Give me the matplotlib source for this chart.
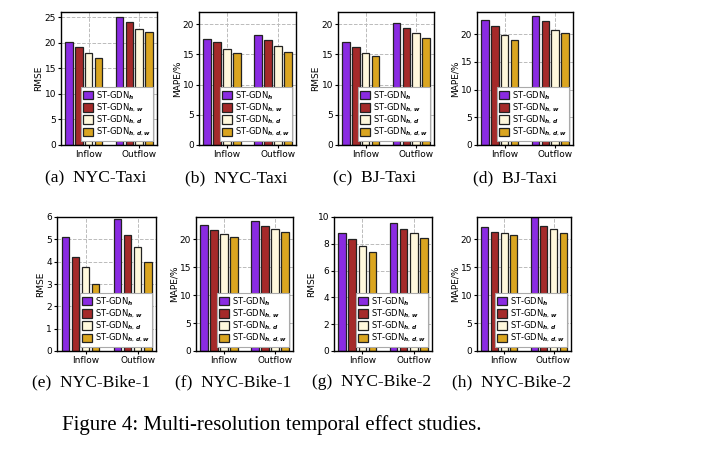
import matplotlib
matplotlib.use('Agg')
import matplotlib.pyplot as plt
import numpy as np

plt.rcParams['font.family'] = ['DejaVu Sans']
plt.rcParams['mathtext.fontset'] = 'custom'
plt.rcParams['mathtext.it'] = 'DejaVu Sans:italic:bold'
plt.rcParams['mathtext.rm'] = 'DejaVu Sans'

categories = ['Inflow', 'Outflow']
series_labels = [r'ST-GDN$_{h}$', r'ST-GDN$_{h,w}$', r'ST-GDN$_{h,d}$', r'ST-GDN$_{h,d,w}$']
colors = ['#8A2BE2', '#A52A2A', '#FFF8DC', '#DAA520']

# values per panel: inflow (4 series), outflow (4 series)
nyc_taxi_rmse_in = [20.2, 19.2, 17.9, 17.1]
nyc_taxi_rmse_out = [25.1, 24.1, 22.7, 22.1]
nyc_taxi_mape_in = [17.6, 17.1, 15.8, 15.3]
nyc_taxi_mape_out = [18.2, 17.4, 16.4, 15.4]
bj_taxi_rmse_in = [17.0, 16.2, 15.3, 14.7]
bj_taxi_rmse_out = [20.2, 19.3, 18.5, 17.7]
bj_taxi_mape_in = [22.5, 21.5, 19.9, 18.9]
bj_taxi_mape_out = [23.2, 22.3, 20.7, 20.2]
bike1_rmse_in = [5.10, 4.23, 3.74, 2.99]
bike1_rmse_out = [5.92, 5.20, 4.65, 3.98]
bike1_mape_in = [22.5, 21.6, 20.9, 20.5]
bike1_mape_out = [23.2, 22.4, 21.9, 21.3]
bike2_rmse_in = [8.77, 8.37, 7.80, 7.37]
bike2_rmse_out = [9.55, 9.07, 8.77, 8.47]
bike2_mape_in = [22.2, 21.4, 21.1, 20.7]
bike2_mape_out = [24.0, 22.3, 21.8, 21.1]

captions = ['(a)  NYC-Taxi', '(b)  NYC-Taxi', '(c)  BJ-Taxi', '(d)  BJ-Taxi',
            '(e)  NYC-Bike-1', '(f)  NYC-Bike-1', '(g)  NYC-Bike-2', '(h)  NYC-Bike-2']
ylabels = ['RMSE', 'MAPE/%', 'RMSE', 'MAPE/%', 'RMSE', 'MAPE/%', 'RMSE', 'MAPE/%']
ylims = [26, 22, 22, 24, 6, 24, 10, 24]
ystep = [5, 5, 5, 5, 1, 5, 2, 5]
yticktop = [25, 20, 20, 20, 6, 20, 10, 20]

data = [
    (nyc_taxi_rmse_in, nyc_taxi_rmse_out),
    (nyc_taxi_mape_in, nyc_taxi_mape_out),
    (bj_taxi_rmse_in, bj_taxi_rmse_out),
    (bj_taxi_mape_in, bj_taxi_mape_out),
    (bike1_rmse_in, bike1_rmse_out),
    (bike1_mape_in, bike1_mape_out),
    (bike2_rmse_in, bike2_rmse_out),
    (bike2_mape_in, bike2_mape_out),
]

W, H = 703, 458
# axes boxes in pixels: left, right, top, bottom
boxes = [
    (61, 157, 12, 145), (199, 296, 12, 145), (338, 434, 12, 145), (477, 573, 12, 145),
    (57, 156, 217, 351), (196, 293, 217, 351), (334, 432, 217, 351), (477, 571, 217, 351),
]
cap_pos = [(96, 178), (236, 178), (375, 178), (515, 178),
           (91, 382), (233, 382), (372, 382), (512, 382)]

fig = plt.figure(figsize=(W / 100, H / 100), dpi=100)

x = np.arange(len(categories))
step = 0.195
bw = 0.145
offsets = [-2 * step, -step, 0, step]

for k in range(8):
    l, r, t, b = boxes[k]
    ax = fig.add_axes([l / W, 1 - b / H, (r - l) / W, (b - t) / H])
    vin, vout = data[k]
    for i in range(4):
        vals = [vin[i], vout[i]]
        ax.bar(x + offsets[i], vals, width=bw, color=colors[i], edgecolor='#222222',
               linewidth=0.9, label=series_labels[i], zorder=2)
    ax.set_ylim(0, ylims[k])
    ax.set_yticks(np.arange(0, yticktop[k] + 0.01, ystep[k]))
    ax.set_xticks(x)
    ax.set_xticklabels(categories)
    ax.tick_params(labelsize=6.5, length=2, width=0.8, pad=1.5)
    ax.set_ylabel(ylabels[k], fontsize=6.5, labelpad=1)
    ax.grid(True, linestyle='--', color='#bbbbbb', linewidth=0.7)
    ax.set_axisbelow(True)
    for s in ax.spines.values():
        s.set_linewidth(1.0)
    leg = ax.legend(loc='lower right', fontsize=6.0, handlelength=1.2, handleheight=1.2,
                    labelspacing=0.0, handletextpad=0.3, borderpad=0.3,
                    borderaxespad=0.5, fancybox=False, framealpha=1.0, edgecolor='#aaaaaa')
    leg.get_frame().set_linewidth(0.8)
    cx, cy = cap_pos[k]
    fig.text(cx / W, 1 - cy / H, captions[k], ha='center', va='center',
             fontsize=12.6, family='Liberation Serif')

fig.text(272 / W, 1 - 425 / H, 'Figure 4: Multi-resolution temporal effect studies.',
         ha='center', va='center', fontsize=15, family='Liberation Serif')

fig.savefig('out.png', dpi=100)
